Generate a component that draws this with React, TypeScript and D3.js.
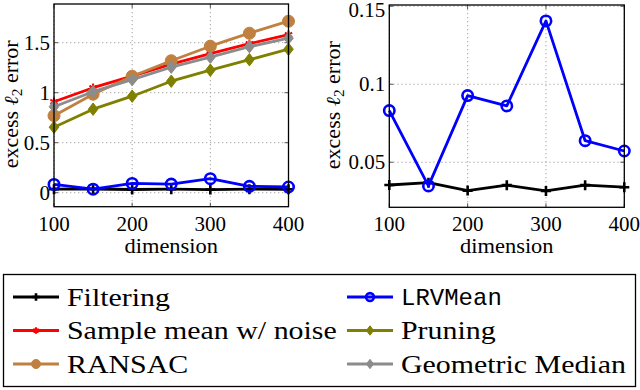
import React from "react";
import * as d3 from "d3";

const dims = [100, 150, 200, 250, 300, 350, 400];
const filtering = [0.0354, 0.0369, 0.0318, 0.0353, 0.0316, 0.0353, 0.034];
const lrvMean = [0.0831, 0.0348, 0.0927, 0.0861, 0.1406, 0.0638, 0.0572];
const sampleMean = [0.91, 1.05, 1.165, 1.285, 1.39, 1.49, 1.58];
const pruning = [0.655, 0.835, 0.965, 1.115, 1.225, 1.33, 1.435];
const ransac = [0.77, 0.985, 1.165, 1.32, 1.465, 1.595, 1.715];
const geoMedian = [0.86, 1.01, 1.13, 1.255, 1.355, 1.46, 1.545];

const xTicks = [100, 200, 300, 400];
const yTicksLeft = [0, 0.5, 1, 1.5];
const yTickLabelsLeft = ["0", "0.5", "1", "1.5"];
const yTicksRight = [0.05, 0.1, 0.15];
const yTickLabelsRight = ["0.05", "0.1", "0.15"];

type Marker = "plus" | "circle" | "asterisk" | "diamond" | "dot";
interface Series {
  name: string;
  values: number[];
  color: string;
  marker: Marker;
  mono?: boolean;
}

const seriesAll: Series[] = [
  { name: "Filtering", values: filtering, color: "#000000", marker: "plus" },
  { name: "LRVMean", values: lrvMean, color: "#0000ff", marker: "circle", mono: true },
  { name: "Sample mean w/ noise", values: sampleMean, color: "#ff0000", marker: "asterisk" },
  { name: "Pruning", values: pruning, color: "#808000", marker: "diamond" },
  { name: "RANSAC", values: ransac, color: "#bf8040", marker: "dot" },
  { name: "Geometric Median", values: geoMedian, color: "#8c8c8c", marker: "diamond" },
];

const SERIF = "Liberation Serif, DejaVu Serif, serif";
const MONO = "Liberation Mono, DejaVu Sans Mono, monospace";

function MarkerShape({ type, x, y, color, scale = 1 }: { type: Marker; x: number; y: number; color: string; scale?: number }) {
  const s = scale;
  switch (type) {
    case "plus":
      return (
        <path d={`M${x - 5 * s},${y}H${x + 5 * s}M${x},${y - 5 * s}V${y + 5 * s}`} stroke={color} strokeWidth={2.6} fill="none" />
      );
    case "circle":
      return <circle cx={x} cy={y} r={5.2 * s} fill="none" stroke={color} strokeWidth={2.6} />;
    case "asterisk": {
      const r = 4.2 * s;
      const parts: string[] = [];
      for (let k = 0; k < 3; k++) {
        const a = Math.PI / 2 + (k * Math.PI) / 3;
        parts.push(`M${x - r * Math.cos(a)},${y - r * Math.sin(a)}L${x + r * Math.cos(a)},${y + r * Math.sin(a)}`);
      }
      return <path d={parts.join("")} stroke={color} strokeWidth={2} fill="none" />;
    }
    case "diamond": {
      const w = 4.8 * s,
        h = 6.2 * s;
      return <path d={`M${x},${y - h}L${x + w},${y}L${x},${y + h}L${x - w},${y}Z`} fill={color} stroke={color} strokeWidth={1} />;
    }
    case "dot":
      return <circle cx={x} cy={y} r={6 * s} fill={color} stroke={color} strokeWidth={1} />;
  }
}

interface PanelProps {
  left: number;
  right: number;
  top: number;
  bottom: number;
  yDomain: [number, number];
  yTicks: number[];
  yTickLabels: string[];
  series: Series[];
  yLabelX: number;
  clipId: string;
}

const serifStyle = { fontFamily: SERIF };

function Panel({ left, right, top, bottom, yDomain, yTicks, yTickLabels, series, yLabelX, clipId }: PanelProps) {
  const x = d3.scaleLinear().domain([100, 400]).range([left, right]);
  const y = d3.scaleLinear().domain(yDomain).range([bottom, top]);
  const line = d3
    .line<number>()
    .x((_, i) => x(dims[i]))
    .y((d) => y(d));
  const cy = (top + bottom) / 2 - 1;
  return (
    <g>
      <defs>
        <clipPath id={clipId}>
          <rect x={left - 8} y={top - 8} width={right - left + 16} height={bottom - top + 16} />
        </clipPath>
      </defs>
      {xTicks.map((t) => (
        <line key={"gx" + t} x1={x(t)} x2={x(t)} y1={top} y2={bottom} stroke="#a6a6a6" strokeWidth={1} strokeDasharray="1.3 2.7" />
      ))}
      {yTicks.map((t) => (
        <line key={"gy" + t} x1={left} x2={right} y1={y(t)} y2={y(t)} stroke="#a6a6a6" strokeWidth={1} strokeDasharray="1.3 2.7" />
      ))}
      {xTicks.map((t) => (
        <g key={"tx" + t}>
          <line x1={x(t)} x2={x(t)} y1={bottom} y2={bottom - 4} stroke="#555" strokeWidth={1} />
          <line x1={x(t)} x2={x(t)} y1={top} y2={top + 4} stroke="#555" strokeWidth={1} />
        </g>
      ))}
      {yTicks.map((t) => (
        <g key={"ty" + t}>
          <line x1={left} x2={left + 4} y1={y(t)} y2={y(t)} stroke="#555" strokeWidth={1} />
          <line x1={right} x2={right - 4} y1={y(t)} y2={y(t)} stroke="#555" strokeWidth={1} />
        </g>
      ))}
      <g clipPath={`url(#${clipId})`}>
        {series.map((s) => (
          <g key={s.name}>
            <path d={line(s.values) || ""} fill="none" stroke={s.color} strokeWidth={2.8} strokeLinejoin="round" />
            {s.values.map((v, i) => (
              <MarkerShape key={i} type={s.marker} x={x(dims[i])} y={y(v)} color={s.color} />
            ))}
          </g>
        ))}
      </g>
      <rect x={left} y={top} width={right - left} height={bottom - top} fill="none" stroke="#000" strokeWidth={1.3} />
      {xTicks.map((t) => (
        <text key={"lx" + t} x={x(t)} y={231} textAnchor="middle" style={serifStyle} fontSize={21} fill="#000">
          {t}
        </text>
      ))}
      {yTicks.map((t, i) => (
        <text
          key={"ly" + t}
          x={left - 4}
          y={Math.max(y(t), 10)}
          dy="0.34em"
          textAnchor="end"
          style={serifStyle}
          fontSize={21}
          fill="#000"
        >
          {yTickLabels[i]}
        </text>
      ))}
      <text
        transform={`translate(${(left + right) / 2},253) scale(1.07,1)`}
        textAnchor="middle"
        style={serifStyle}
        fontSize={21}
        fill="#000"
      >
        dimension
      </text>
      <text transform={`translate(${yLabelX},${cy}) rotate(-90) scale(1.1,1)`} textAnchor="middle" style={serifStyle} fontSize={20} fill="#000">
        excess <tspan fontStyle="italic">ℓ</tspan>
        <tspan fontSize={14} dy={4}>2</tspan>
        <tspan dy={-4}> error</tspan>
      </text>
    </g>
  );
}

export default function App() {
  const legendRows = [297, 330.5, 364];
  const colX = [13, 347];
  return (
    <svg width={640} height={390} style={{ position: "absolute", left: 0, top: 0, background: "#fff" }}>
      <rect x={0} y={0} width={640} height={390} fill="#fff" />
      <Panel
        left={54}
        right={288.5}
        top={4}
        bottom={206.7}
        yDomain={[-0.14, 1.887]}
        yTicks={yTicksLeft}
        yTickLabels={yTickLabelsLeft}
        series={seriesAll}
        yLabelX={18}
        clipId="clipL"
      />
      <Panel
        left={389.3}
        right={624.3}
        top={5}
        bottom={207.3}
        yDomain={[0.0211, 0.1508]}
        yTicks={yTicksRight}
        yTickLabels={yTickLabelsRight}
        series={seriesAll.slice(0, 2)}
        yLabelX={340}
        clipId="clipR"
      />
      <rect x={3.5} y={274.5} width={632} height={112} fill="#fff" stroke="#000" strokeWidth={1.3} />
      {seriesAll.map((s, i) => {
        const col = i % 2;
        const row = Math.floor(i / 2);
        const lx = colX[col];
        const ly = legendRows[row];
        return (
          <g key={"leg" + s.name}>
            <line x1={lx} x2={lx + 46} y1={ly} y2={ly} stroke={s.color} strokeWidth={2.8} />
            <MarkerShape type={s.marker} x={lx + 23} y={ly} color={s.color} scale={0.75} />
            <text
              transform={`translate(${lx + 54},${ly}) scale(${s.mono ? 1 : 1.15},1)`}
              dy="0.33em"
              style={{ fontFamily: s.mono ? MONO : SERIF }}
              fontSize={s.mono ? 24 : 26}
              fill="#000"
            >
              {s.name}
            </text>
          </g>
        );
      })}
    </svg>
  );
}
